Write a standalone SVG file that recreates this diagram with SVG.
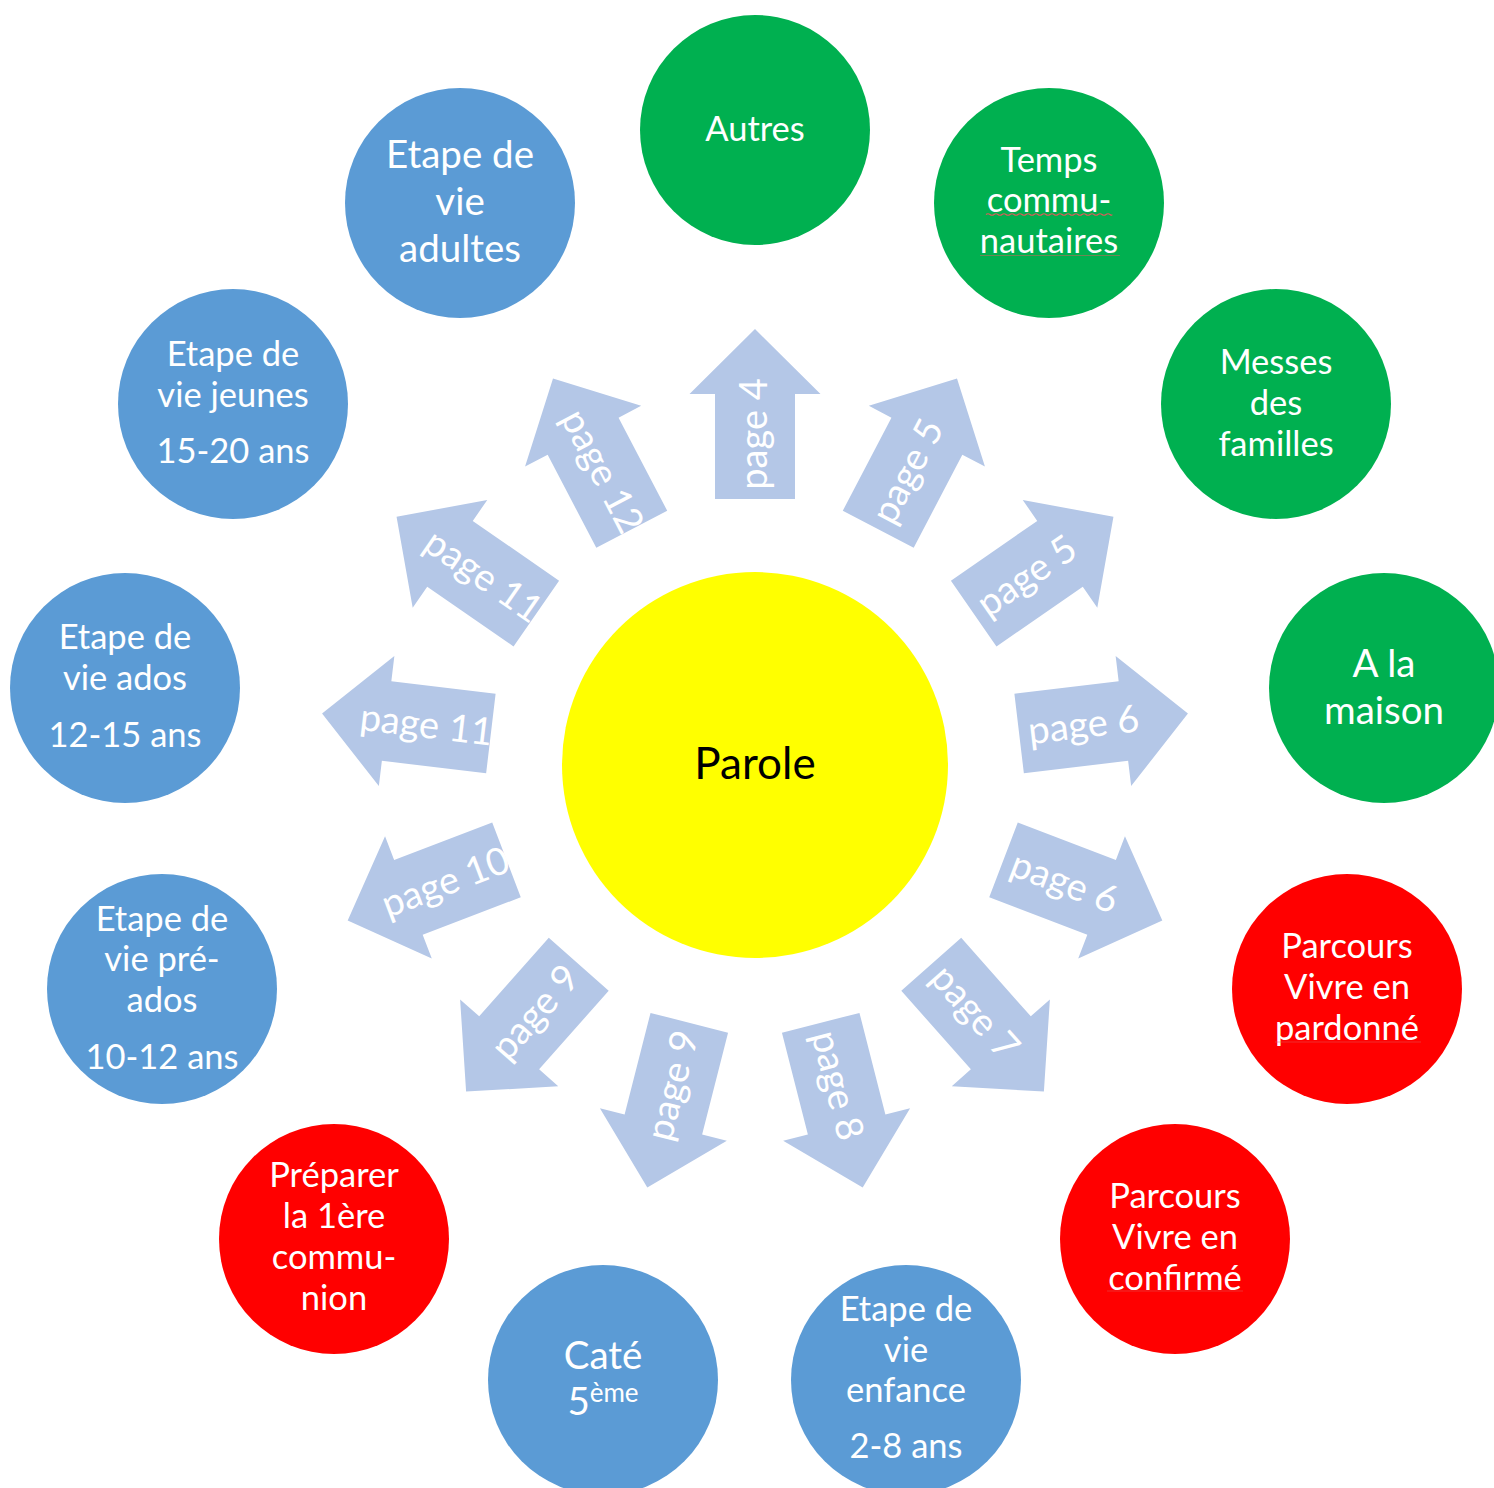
<svg xmlns="http://www.w3.org/2000/svg" xmlns:xlink="http://www.w3.org/1999/xlink" width="1494" height="1488" viewBox="0 0 1494 1488">
<style>
.ar{fill:#B4C7E7}
.al{font-family:Lato,"Liberation Sans",sans-serif;font-size:38px;fill:#FFFFFF;text-anchor:middle}
.t{font-family:Lato,"Liberation Sans",sans-serif;font-size:34.5px;fill:#FFFFFF;text-anchor:middle}
.tl{font-size:38.5px}
.g{fill:#00B050}
.b{fill:#5B9BD5}
.r{fill:#FF0000}
.sp{stroke:#E05A5A;stroke-width:1.2;fill:none}
</style>
<defs>
<path id="arrow" d="M266,-40 L371,-40 L371,-65.5 L436,0 L371,65.5 L371,40 L266,40 Z"/>
</defs>
<rect width="1494" height="1488" fill="#FFFFFF"/>
<g id="connectors">
<use xlink:href="#arrow" class="ar" transform="translate(755 765) rotate(-90)"/>
<text class="al" transform="translate(755 765) rotate(-90) translate(331 0)" y="12">page 4</text>
<use xlink:href="#arrow" class="ar" transform="translate(755 765) rotate(-62.4)"/>
<text class="al" transform="translate(755 765) rotate(-62.4) translate(331 0)" y="12">page 5</text>
<use xlink:href="#arrow" class="ar" transform="translate(755 765) rotate(-34.7)"/>
<text class="al" transform="translate(755 765) rotate(-34.7) translate(331 0)" y="12">page 5</text>
<use xlink:href="#arrow" class="ar" transform="translate(755 765) rotate(-6.8)"/>
<text class="al" transform="translate(755 765) rotate(-6.8) translate(331 0)" y="12">page 6</text>
<use xlink:href="#arrow" class="ar" transform="translate(755 765) rotate(20.9)"/>
<text class="al" transform="translate(755 765) rotate(20.9) translate(331 0)" y="12">page 6</text>
<use xlink:href="#arrow" class="ar" transform="translate(755 765) rotate(48.5)"/>
<text class="al" transform="translate(755 765) rotate(48.5) translate(331 0)" y="12">page 7</text>
<use xlink:href="#arrow" class="ar" transform="translate(755 765) rotate(75.7)"/>
<text class="al" transform="translate(755 765) rotate(75.7) translate(331 0)" y="12">page 8</text>
<use xlink:href="#arrow" class="ar" transform="translate(755 765) rotate(104.3)"/>
<text class="al" transform="translate(755 765) rotate(104.3) translate(331 0) rotate(180)" y="12">page 9</text>
<use xlink:href="#arrow" class="ar" transform="translate(755 765) rotate(131.5)"/>
<text class="al" transform="translate(755 765) rotate(131.5) translate(331 0) rotate(180)" y="12">page 9</text>
<use xlink:href="#arrow" class="ar" transform="translate(755 765) rotate(159.1)"/>
<text class="al" transform="translate(755 765) rotate(159.1) translate(331 0) rotate(180)" y="12">page 10</text>
<use xlink:href="#arrow" class="ar" transform="translate(755 765) rotate(186.8)"/>
<text class="al" transform="translate(755 765) rotate(186.8) translate(331 0) rotate(180)" y="12">page 11</text>
<use xlink:href="#arrow" class="ar" transform="translate(755 765) rotate(-145.3)"/>
<text class="al" transform="translate(755 765) rotate(-145.3) translate(331 0) rotate(180)" y="12">page 11</text>
<use xlink:href="#arrow" class="ar" transform="translate(755 765) rotate(-117.6)"/>
<text class="al" transform="translate(755 765) rotate(-117.6) translate(331 0) rotate(180)" y="12">page 12</text>
</g>
<g id="parole">
<circle cx="755" cy="765" r="193" fill="#FFFF00"/>
<text x="755" y="779" font-family="Lato,'Liberation Sans',sans-serif" font-size="44" fill="#000000" text-anchor="middle">Parole</text>
</g>
<g id="autres">
<circle class="g" cx="755" cy="130" r="115"/>
<text class="t" x="755" y="141">Autres</text>
</g>
<g id="temps">
<circle class="g" cx="1049" cy="203" r="115"/>
<text class="t" x="1049" y="172">Temps</text>
<text class="t" x="1049" y="212">commu-</text>
<text class="t" x="1049" y="252.5">nautaires</text>
<path class="sp" d="M986,214.5 q2,-1.5 4,0 t4,0 t4,0 t4,0 t4,0 t4,0 t4,0 t4,0 t4,0 t4,0 t4,0 t4,0 t4,0 t4,0 t4,0 t4,0 t4,0 t4,0 t4,0 t4,0 t4,0 t4,0 t4,0 t4,0 t4,0 t4,0 t4,0 t4,0 t4,0 t4,0 t4,0 t2,0"/>
<path class="sp" d="M980,255.5 h140" opacity="0.5"/>
</g>
<g id="messes">
<circle class="g" cx="1276" cy="404" r="115"/>
<text class="t" x="1276" y="374">Messes</text>
<text class="t" x="1276" y="415">des</text>
<text class="t" x="1276" y="456">familles</text>
</g>
<g id="maison">
<circle class="g" cx="1384" cy="688" r="115"/>
<text class="t tl" x="1384" y="677">A la</text>
<text class="t tl" x="1384" y="724">maison</text>
</g>
<g id="pardonne">
<circle class="r" cx="1347" cy="989" r="115"/>
<text class="t" x="1347" y="958">Parcours</text>
<text class="t" x="1347" y="999">Vivre en</text>
<text class="t" x="1347" y="1040">pardonné</text>
<path class="sp" d="M1275,1042 h146" opacity="0.5"/>
</g>
<g id="confirme">
<circle class="r" cx="1175" cy="1239" r="115"/>
<text class="t" x="1175" y="1208">Parcours</text>
<text class="t" x="1175" y="1249">Vivre en</text>
<text class="t" x="1175" y="1289.5">confirmé</text>
<path class="sp" d="M1107,1291 h136" opacity="0.5"/>
</g>
<g id="enfance">
<circle class="b" cx="906" cy="1380" r="115"/>
<text class="t" x="906" y="1321">Etape de</text>
<text class="t" x="906" y="1362">vie</text>
<text class="t" x="906" y="1402">enfance</text>
<text class="t" x="906" y="1458">2-8 ans</text>
</g>
<g id="cate">
<circle class="b" cx="603" cy="1380" r="115"/>
<text class="t tl" x="603" y="1369">Caté</text>
<text class="t tl" x="603" y="1415">5<tspan font-size="26" dy="-13">ème</tspan></text>
</g>
<g id="preparer">
<circle class="r" cx="334" cy="1239" r="115"/>
<text class="t" x="334" y="1187">Préparer</text>
<text class="t" x="334" y="1228">la 1ère</text>
<text class="t" x="334" y="1269">commu-</text>
<text class="t" x="334" y="1310">nion</text>
</g>
<g id="preados">
<circle class="b" cx="162" cy="989" r="115"/>
<text class="t" x="162" y="931">Etape de</text>
<text class="t" x="162" y="971">vie pré-</text>
<text class="t" x="162" y="1012">ados</text>
<text class="t" x="162" y="1069">10-12 ans</text>
</g>
<g id="ados">
<circle class="b" cx="125" cy="688" r="115"/>
<text class="t" x="125" y="649">Etape de</text>
<text class="t" x="125" y="690">vie ados</text>
<text class="t" x="125" y="747">12-15 ans</text>
</g>
<g id="jeunes">
<circle class="b" cx="233" cy="404" r="115"/>
<text class="t" x="233" y="366">Etape de</text>
<text class="t" x="233" y="407">vie jeunes</text>
<text class="t" x="233" y="463">15-20 ans</text>
</g>
<g id="adultes">
<circle class="b" cx="460" cy="203" r="115"/>
<text class="t tl" x="460" y="168">Etape de</text>
<text class="t tl" x="460" y="215">vie</text>
<text class="t tl" x="460" y="262">adultes</text>
</g>
</svg>
